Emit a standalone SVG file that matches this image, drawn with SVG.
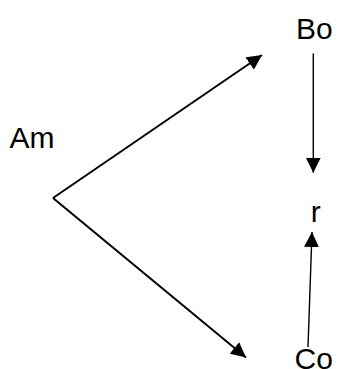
<svg xmlns="http://www.w3.org/2000/svg" width="338" height="369" viewBox="0 0 338 369">
  <style>
    .lbl { font-family: "Liberation Sans", Arial, sans-serif; font-size: 30px; fill: #000; }
    .edge { stroke: #000; fill: none; marker-end: url(#head); }
    .thick { stroke-width: 2; }
    .thin { stroke-width: 1.4; }
  </style>
  <defs>
    <marker id="head" markerUnits="userSpaceOnUse" markerWidth="15" markerHeight="15" refX="15" refY="7.5" orient="auto" viewBox="0 0 15 15">
      <path d="M0,0 L15,7.5 L0,15 Z" fill="#000"/>
    </marker>
  </defs>

  <g id="connectors">
    <line class="edge thick" x1="53" y1="198" x2="262" y2="55"/>
    <line class="edge thick" x1="53" y1="198" x2="246" y2="357.5"/>
    <line class="edge thin" x1="313.3" y1="53.5" x2="313.3" y2="172.7"/>
    <line class="edge thin" x1="308" y1="347" x2="312" y2="232"/>
  </g>

  <g id="node-am"><text class="lbl" x="9.5" y="148">Am</text></g>
  <g id="node-bo"><text class="lbl" x="296" y="38.5">Bo</text></g>
  <g id="node-r"><text class="lbl" x="310.8" y="221.7">r</text></g>
  <g id="node-co"><text class="lbl" x="294.5" y="368.5">Co</text></g>
</svg>
